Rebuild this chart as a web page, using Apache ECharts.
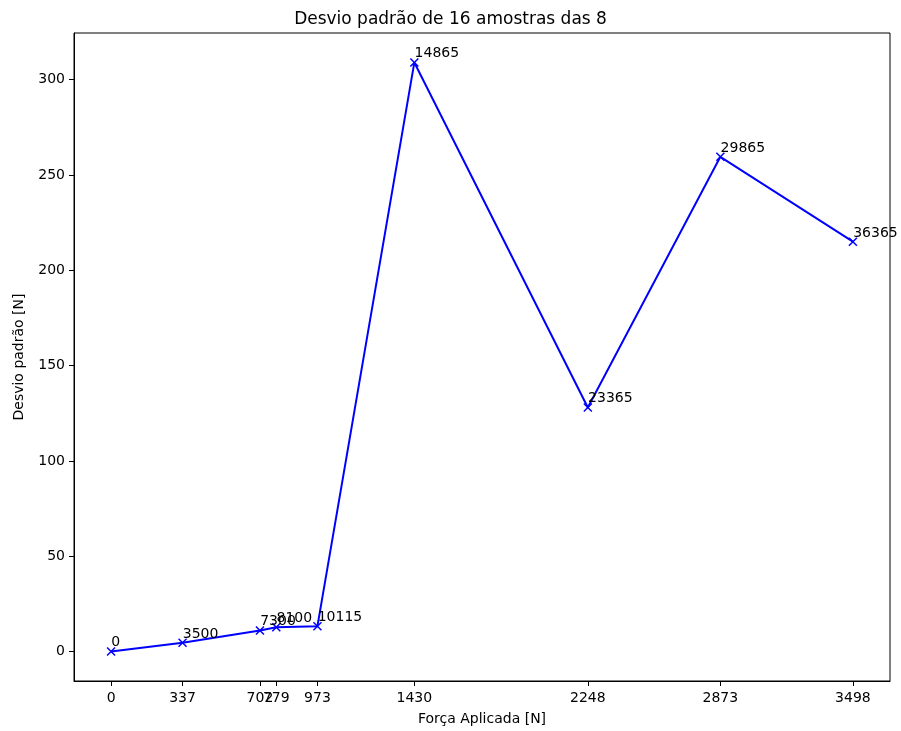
<!DOCTYPE html>
<html>
<head>
<meta charset="utf-8">
<script src="https://cdn.jsdelivr.net/npm/echarts@6/dist/echarts.min.js"></script>
<style>
  html, body { margin: 0; padding: 0; background: #fff; }
  #chart { width: 901px; height: 731px; }
</style>
</head>
<body>
<div id="chart"></div>
<script>
// força aplicada (eixo x) e desvio padrão (eixo y)
var forcas = [0, 337, 702, 779, 973, 1430, 2248, 2873, 3498];
var desvios = [0, 4.6, 11, 12.7, 13.3, 309, 128, 259.5, 215];
// rótulos de cada ponto (número de amostras)
var rotulos = ["0", "3500", "7300", "8100", "10115", "14865", "23365", "29865", "36365"];
var yTicks = [0, 50, 100, 150, 200, 250, 300];

var font = "DejaVu Sans";
var chart = echarts.init(document.getElementById("chart"));

var xSpan = forcas[forcas.length - 1] - forcas[0];
var ySpan = Math.max.apply(null, desvios) - Math.min.apply(null, desvios);

chart.setOption({
  animation: false,
  title: {
    text: "Desvio padrão de 16 amostras das 8",
    left: "center",
    top: 6,
    textStyle: { fontFamily: font, fontSize: 17, fontWeight: "normal", color: "#000" }
  },
  grid: {
    left: 74, right: 11, top: 33, bottom: 50,
    show: true, borderColor: "#000", borderWidth: 1
  },
  xAxis: {
    type: "value",
    min: forcas[0] - xSpan * 0.05,
    max: forcas[forcas.length - 1] + xSpan * 0.05,
    name: "Força Aplicada [N]",
    nameLocation: "middle",
    nameGap: 31,
    nameTextStyle: { fontFamily: font, fontSize: 14, color: "#000" },
    axisLine: { show: true, onZero: false, lineStyle: { color: "#000", width: 1 } },
    axisTick: { show: true, length: 5, customValues: forcas, lineStyle: { color: "#000" } },
    axisLabel: {
      customValues: forcas, fontFamily: font, fontSize: 14, color: "#000", margin: 10,
      formatter: function (v) { return String(v); }
    },
    splitLine: { show: false }
  },
  yAxis: {
    type: "value",
    min: Math.min.apply(null, desvios) - ySpan * 0.05,
    max: Math.max.apply(null, desvios) + ySpan * 0.05,
    name: "Desvio padrão [N]",
    nameLocation: "middle",
    nameGap: 48,
    nameTextStyle: { fontFamily: font, fontSize: 14, color: "#000" },
    axisLine: { show: true, onZero: false, lineStyle: { color: "#000", width: 1 } },
    axisTick: { show: true, length: 5, customValues: yTicks, lineStyle: { color: "#000" } },
    axisLabel: {
      customValues: yTicks, fontFamily: font, fontSize: 14, color: "#000", margin: 9,
      formatter: function (v) { return String(v); }
    },
    splitLine: { show: false }
  },
  series: [{
    type: "line",
    data: forcas.map(function (f, i) { return [f, desvios[i]]; }),
    lineStyle: { color: "#0000ff", width: 2 },
    symbol: "path://M0,0L10,10M10,0L0,10",
    symbolSize: 8,
    showAllSymbol: true,
    itemStyle: { color: "#0000ff", borderColor: "#0000ff", borderWidth: 1.5 },
    label: {
      show: true,
      position: [5, 3],
      align: "left",
      verticalAlign: "bottom",
      fontFamily: font,
      fontSize: 14,
      color: "#000",
      formatter: function (p) { return rotulos[p.dataIndex]; }
    },
    labelLayout: { hideOverlap: false },
    emphasis: { disabled: true }
  }]
});
</script>
</body>
</html>
